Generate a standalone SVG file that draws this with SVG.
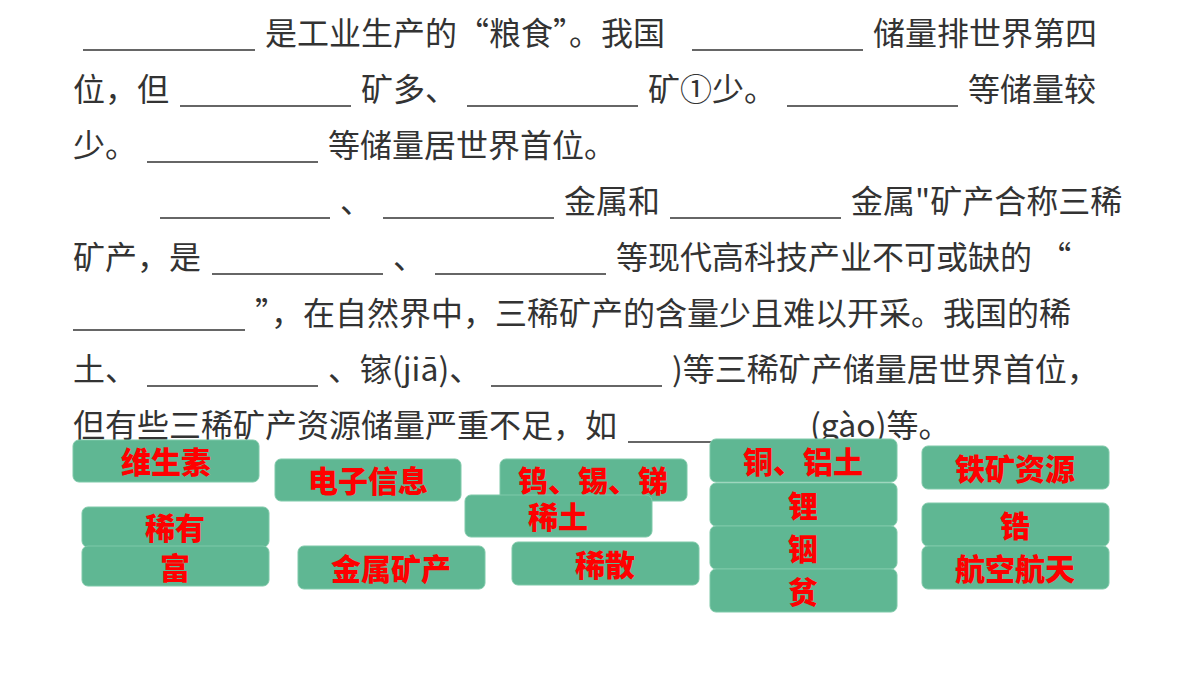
<svg xmlns="http://www.w3.org/2000/svg" width="1200" height="675" viewBox="0 0 1200 675">
<style>
.t{font-family:"Noto Sans CJK SC","Noto Sans",sans-serif;font-size:32px;fill:#333333}
.u{stroke:#333333;stroke-width:1.6}
.b rect{fill:#5fb793;stroke:#7fc9a9;stroke-width:1}
.b text{font-family:"Noto Sans CJK SC",sans-serif;font-size:30px;font-weight:900;fill:#ff0000;text-anchor:middle}
</style>
<rect width="1200" height="675" fill="#ffffff"/>
<g id="text">
<text class="t" x="265" y="45">是工业生产的“粮食”。我国</text>
<text class="t" x="873" y="45">储量排世界第四</text>
<text class="t" x="73" y="101">位，但</text>
<text class="t" x="361" y="101">矿多、</text>
<text class="t" x="648" y="101">矿①少。</text>
<text class="t" x="968" y="101">等储量较</text>
<text class="t" x="73" y="157">少。</text>
<text class="t" x="328" y="157">等储量居世界首位。</text>
<text class="t" x="340" y="213">、</text>
<text class="t" x="564" y="213">金属和</text>
<text class="t" x="851" y="213">金属"矿产合称三稀</text>
<text class="t" x="73" y="269">矿产，是</text>
<text class="t" x="393" y="269">、</text>
<text class="t" x="616" y="269">等现代高科技产业不可或缺的 “</text>
<text class="t" x="255" y="325">”，在自然界中，三稀矿产的含量少且难以开采。我国的稀</text>
<text class="t" x="73" y="381">土、</text>
<text class="t" x="328" y="381">、镓(jiā)、</text>
<text class="t" x="672" y="381">)等三稀矿产储量居世界首位，</text>
<text class="t" x="73" y="437">但有些三稀矿产资源储量严重不足，如</text>
<text class="t" x="810" y="437">(gào)等。</text>
</g>
<g id="blanks" class="u">
<line x1="83" y1="50" x2="255" y2="50"/>
<line x1="692" y1="50" x2="863" y2="50"/>
<line x1="180" y1="106" x2="351" y2="106"/>
<line x1="467" y1="106" x2="638" y2="106"/>
<line x1="787" y1="106" x2="958" y2="106"/>
<line x1="147" y1="162" x2="318" y2="162"/>
<line x1="160" y1="218" x2="330" y2="218"/>
<line x1="383" y1="218" x2="554" y2="218"/>
<line x1="670" y1="218" x2="841" y2="218"/>
<line x1="212" y1="274" x2="383" y2="274"/>
<line x1="435" y1="274" x2="606" y2="274"/>
<line x1="73" y1="330" x2="245" y2="330"/>
<line x1="147" y1="386" x2="318" y2="386"/>
<line x1="491" y1="386" x2="662" y2="386"/>
<line x1="628" y1="442" x2="800" y2="442"/>
</g>
<g id="n1" class="b"><rect x="73" y="440" width="186" height="42" rx="6"/><text x="166" y="473">维生素</text></g>
<g id="n2" class="b"><rect x="275" y="459" width="186" height="42" rx="6"/><text x="368" y="492">电子信息</text></g>
<g id="n3" class="b"><rect x="500" y="459" width="187" height="42" rx="6"/><text x="593" y="492">钨、锡、锑</text></g>
<g id="n4" class="b"><rect x="465" y="495" width="187" height="42" rx="6"/><text x="558" y="528">稀土</text></g>
<g id="n5" class="b"><rect x="82" y="507" width="187" height="40" rx="6"/><text x="175" y="539">稀有</text></g>
<g id="n6" class="b"><rect x="82" y="546" width="187" height="40" rx="6"/><text x="175" y="579">富</text></g>
<g id="n7" class="b"><rect x="298" y="546" width="187" height="43" rx="6"/><text x="391" y="580">金属矿产</text></g>
<g id="n8" class="b"><rect x="512" y="542" width="187" height="43" rx="6"/><text x="605" y="576">稀散</text></g>
<g id="n9" class="b"><rect x="710" y="439" width="187" height="43" rx="6"/><text x="803" y="473">铜、铝土</text></g>
<g id="n10" class="b"><rect x="710" y="483" width="187" height="43" rx="6"/><text x="803" y="517">锂</text></g>
<g id="n11" class="b"><rect x="710" y="526" width="187" height="43" rx="6"/><text x="803" y="560">铟</text></g>
<g id="n12" class="b"><rect x="710" y="569" width="187" height="43" rx="6"/><text x="803" y="603">贫</text></g>
<g id="n13" class="b"><rect x="922" y="446" width="187" height="43" rx="6"/><text x="1015" y="480">铁矿资源</text></g>
<g id="n14" class="b"><rect x="922" y="503" width="187" height="43" rx="6"/><text x="1015" y="537">锆</text></g>
<g id="n15" class="b"><rect x="922" y="546" width="187" height="43" rx="6"/><text x="1015" y="580">航空航天</text></g>
</svg>
